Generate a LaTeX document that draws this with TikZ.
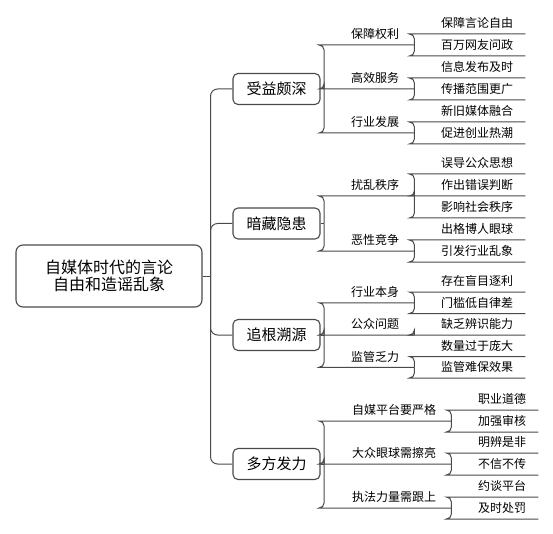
\documentclass[tikz,border=0pt]{standalone}
\usepackage{fontspec}
\usepackage{tikz}
\usetikzlibrary{positioning,calc}
\newfontfamily\cjk{Noto Sans CJK SC}
\definecolor{linegray}{HTML}{4A4A4A}

\begin{document}
\begin{tikzpicture}[x=1pt, y=-1pt,
    rootbox/.style={draw=linegray, line width=1.1pt, rounded corners=7pt, fill=white,
      minimum width=186pt, minimum height=62pt, align=center,
      font=\cjk\fontsize{16}{17}\selectfont},
    topicbox/.style={draw=linegray, line width=1.1pt, rounded corners=5pt, fill=white,
      minimum width=87pt, minimum height=31pt, inner sep=0pt,
      font=\cjk\fontsize{15}{18}\selectfont},
    subitem/.style={anchor=south west, inner xsep=15pt, inner ysep=6pt,
      text height=9pt, text depth=0pt, text width=#1, align=right,
      font=\cjk\fontsize{12}{14}\selectfont},
    leafitem/.style={anchor=south west, inner xsep=12pt, inner ysep=6pt,
      text height=9pt, text depth=0pt, text width=#1, align=right,
      font=\cjk\fontsize{12}{14}\selectfont},
    branch/.style={draw=linegray, line width=1pt, rounded corners=#1},
    branch/.default=5pt]
  \useasboundingbox (0,0) rectangle (553,534);

  % central topic and main topics
  \node[rootbox] (root) at (109,276) {自媒体时代的言论\\自由和造谣乱象};
  \node[topicbox] (t1) at (276.5,89) {受益颇深};
  \node[topicbox] (t2) at (276.5,223.5) {暗藏隐患};
  \node[topicbox] (t3) at (276.5,335) {追根溯源};
  \node[topicbox] (t4) at (276.5,464) {多方发力};

  % subtopics
  \node[subitem=60.5pt] (s11) at (323.5,45) {保障权利};
  \node[subitem=60.5pt] (s12) at (323.5,89) {高效服务};
  \node[subitem=60.5pt] (s13) at (323.5,133) {行业发展};
  \node[subitem=60.5pt] (s21) at (323.5,196) {扰乱秩序};
  \node[subitem=60.5pt] (s22) at (323.5,251) {恶性竞争};
  \node[subitem=60.5pt] (s31) at (323.5,302.75) {行业本身};
  \node[subitem=60.5pt] (s32) at (323.5,335) {公众问题};
  \node[subitem=60.5pt] (s33) at (323.5,367.25) {监管乏力};
  \node[subitem=97.5pt] (s41) at (323.5,421) {自媒平台要严格};
  \node[subitem=97.5pt] (s42) at (323.5,464) {大众眼球需擦亮};
  \node[subitem=97.5pt] (s43) at (323.5,508) {执法力量需跟上};

  % details
  \node[leafitem=87pt] (d111) at (414,34) {保障言论自由};
  \node[leafitem=87pt] (d112) at (414,56) {百万网友问政};
  \node[leafitem=87pt] (d121) at (414,78) {信息发布及时};
  \node[leafitem=87pt] (d122) at (414,100) {传播范围更广};
  \node[leafitem=87pt] (d131) at (414,122) {新旧媒体融合};
  \node[leafitem=87pt] (d132) at (414,144) {促进创业热潮};
  \node[leafitem=87pt] (d211) at (414,174) {误导公众思想};
  \node[leafitem=87pt] (d212) at (414,196) {作出错误判断};
  \node[leafitem=87pt] (d213) at (414,218) {影响社会秩序};
  \node[leafitem=87pt] (d221) at (414,240) {出格博人眼球};
  \node[leafitem=87pt] (d222) at (414,262) {引发行业乱象};
  \node[leafitem=87pt] (d311) at (414,292) {存在盲目逐利};
  \node[leafitem=87pt] (d312) at (414,313.5) {门槛低自律差};
  \node[leafitem=87pt] (d321) at (414,335) {缺乏辨识能力};
  \node[leafitem=87pt] (d331) at (414,356.5) {数量过于庞大};
  \node[leafitem=87pt] (d332) at (414,378) {监管难保效果};
  \node[leafitem=63pt] (d411) at (451,410) {职业道德};
  \node[leafitem=63pt] (d412) at (451,432) {加强审核};
  \node[leafitem=63pt] (d421) at (451,453) {明辨是非};
  \node[leafitem=63pt] (d422) at (451,475) {不信不传};
  \node[leafitem=63pt] (d431) at (451,497) {约谈平台};
  \node[leafitem=63pt] (d432) at (451,519) {及时处罚};

  % central topic to main topics
  \coordinate (rj) at ($(root.east)+(8,0)$);
  \draw[branch] (root.east) -- (rj);
  \foreach \t in {t1,t2,t3,t4}
    \draw[branch=7pt] (rj) |- (\t.west);

  % main topics to subtopics
  \foreach \t/\subs in {t1/{s11,s12,s13}, t2/{s21,s22}, t3/{s31,s32,s33}, t4/{s41,s42,s43}} {
    \coordinate (\t j) at ($(\t.east)+(3.5,0)$);
    \draw[branch] (\t.east) -- (\t j);
    \foreach \s in \subs
      \draw[branch] (\t j) |- (\s.south west) -- (\s.south east);
  }

  % subtopics to details
  \foreach \s/\leaves in {s11/{d111,d112}, s12/{d121,d122}, s13/{d131,d132},
      s21/{d211,d212,d213}, s22/{d221,d222}, s31/{d311,d312}, s32/{d321},
      s33/{d331,d332}, s41/{d411,d412}, s42/{d421,d422}, s43/{d431,d432}}
    \foreach \d in \leaves
      \draw[branch] (\s.south east) |- (\d.south west) -- (\d.south east);
\end{tikzpicture}
\end{document}
